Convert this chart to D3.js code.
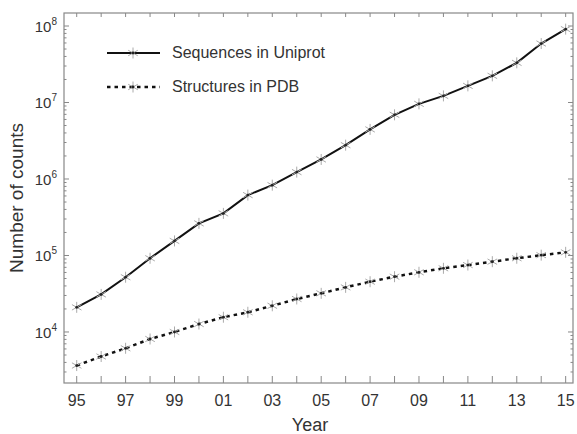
<!DOCTYPE html>
<html>
<head>
<meta charset="utf-8">
<script src="https://cdn.jsdelivr.net/npm/d3@7"></script>
<style>
  body { margin: 0; background: #fff; }
  text { font-family: "Liberation Sans", Arial, sans-serif; fill: #333; }
</style>
</head>
<body>
<div id="chart"></div>
<script>
        // Data
        const years = d3.range(1995, 2016);
        const sequences = [21000, 31000, 52000, 92000, 155000, 263000, 355000, 616000, 830000, 1230000,
            1800000, 2770000, 4450000, 6900000, 9600000, 12200000, 16500000, 22300000, 33000000, 59000000, 91000000];
        const structures = [3640, 4780, 6120, 8100, 10000, 12700, 15600, 18100, 22000, 27000,
            32000, 38300, 45400, 52800, 60300, 68000, 75000, 83000, 92000, 101000, 110000];
        const yTicks = [1e4, 1e5, 1e6, 1e7, 1e8];
        const seriesNames = ["Sequences in Uniprot", "Structures in PDB"];

        // Dimensions
        const width = 577;
        const height = 434;
        const svg = d3.select("#chart")
            .append("svg")
            .attr("width", width)
            .attr("height", height);

        const mLeft = 64, mRight = 573, mTop = 13, mBottom = 383;

        const x = d3.scaleLinear()
            .domain([1994.48, 2015.3])
            .range([mLeft, mRight]);
        const y = d3.scaleLog()
            .domain([Math.pow(10, 3.333), Math.pow(10, 8.17)])
            .range([mBottom, mTop]);

        const axisColor = "#888";

        // frame
        svg.append("rect")
            .attr("x", mLeft).attr("y", mTop)
            .attr("width", mRight - mLeft).attr("height", mBottom - mTop)
            .attr("fill", "none")
            .attr("stroke", axisColor)
            .attr("stroke-width", 1.2);

        // x ticks (inward), bottom and top
        const xg = svg.append("g").attr("stroke", axisColor).attr("stroke-width", 1);
        years.forEach(yr => {
            xg.append("line")
                .attr("x1", x(yr)).attr("x2", x(yr))
                .attr("y1", mBottom).attr("y2", mBottom - 7);
            xg.append("line")
                .attr("x1", x(yr)).attr("x2", x(yr))
                .attr("y1", mTop).attr("y2", mTop + 4);
        });
        svg.append("g").selectAll("text")
            .data(years.filter(yr => (yr - 1995) % 2 === 0))
            .enter()
            .append("text")
            .attr("x", d => x(d))
            .attr("y", 406)
            .attr("text-anchor", "middle")
            .attr("font-size", "16px")
            .text(d => String(d % 100).padStart(2, "0"));

        // y ticks, major and minor, left and right
        const yg = svg.append("g").attr("stroke", axisColor).attr("stroke-width", 1);
        const minor = [];
        for (let e = 3; e <= 8; e++) {
            for (let m = 2; m <= 9; m++) {
                const v = m * Math.pow(10, e);
                if (v >= y.domain()[0] && v <= y.domain()[1]) minor.push(v);
            }
        }
        yTicks.forEach(v => {
            yg.append("line").attr("x1", mLeft).attr("x2", mLeft + 5).attr("y1", y(v)).attr("y2", y(v));
            yg.append("line").attr("x1", mRight).attr("x2", mRight - 5).attr("y1", y(v)).attr("y2", y(v));
        });
        minor.forEach(v => {
            yg.append("line").attr("x1", mLeft).attr("x2", mLeft + 2.5).attr("y1", y(v)).attr("y2", y(v));
            yg.append("line").attr("x1", mRight).attr("x2", mRight - 2.5).attr("y1", y(v)).attr("y2", y(v));
        });
        const yl = svg.append("g").selectAll("text")
            .data(yTicks)
            .enter()
            .append("text")
            .attr("x", 57)
            .attr("y", d => y(d) + 6)
            .attr("text-anchor", "end")
            .attr("font-size", "15px");
        yl.append("tspan").text("10");
        yl.append("tspan")
            .attr("font-size", "10px")
            .attr("dy", -7)
            .text(d => Math.round(Math.log10(d)));

        // axis titles
        svg.append("text")
            .attr("transform", "translate(23," + ((mTop + mBottom) / 2) + ") rotate(-90)")
            .attr("text-anchor", "middle")
            .attr("font-size", "19px")
            .text("Number of counts");
        svg.append("text")
            .attr("x", 310)
            .attr("y", 431)
            .attr("text-anchor", "middle")
            .attr("font-size", "18px")
            .text("Year");

        // lines
        const line = d3.line()
            .x(d => x(d[0]))
            .y(d => y(d[1]));

        function marker(g, cx, cy) {
            const r = 5.5;
            const m = g.append("g").attr("stroke", "#aaa").attr("stroke-width", 1);
            m.append("line").attr("x1", cx).attr("x2", cx).attr("y1", cy - r).attr("y2", cy + r);
            m.append("line").attr("x1", cx - r * 0.87).attr("x2", cx + r * 0.87).attr("y1", cy - r * 0.5).attr("y2", cy + r * 0.5);
            m.append("line").attr("x1", cx - r * 0.87).attr("x2", cx + r * 0.87).attr("y1", cy + r * 0.5).attr("y2", cy - r * 0.5);
            g.append("circle").attr("cx", cx).attr("cy", cy).attr("r", 1.4).attr("fill", "#222");
        }

        const series = [
            { name: seriesNames[0], values: sequences, dash: null, width: 2 },
            { name: seriesNames[1], values: structures, dash: "3.5,4", width: 2.5 }
        ];

        series.forEach(s => {
            const pts = years.map((yr, i) => [yr, s.values[i]]);
            svg.append("path")
                .datum(pts)
                .attr("d", line)
                .attr("fill", "none")
                .attr("stroke", "#111")
                .attr("stroke-width", s.width)
                .attr("stroke-dasharray", s.dash);
            const mg = svg.append("g");
            pts.forEach(p => marker(mg, x(p[0]), y(p[1])));
        });

        // legend
        series.forEach((s, i) => {
            const ly = 53 + i * 34;
            svg.append("line")
                .attr("x1", 107).attr("x2", 160)
                .attr("y1", ly).attr("y2", ly)
                .attr("stroke", "#111")
                .attr("stroke-width", s.width)
                .attr("stroke-dasharray", s.dash);
            marker(svg.append("g"), 133, ly);
            svg.append("text")
                .attr("x", 172)
                .attr("y", ly + 5)
                .attr("font-size", "16px")
                .text(s.name);
        });
</script>
</body>
</html>
